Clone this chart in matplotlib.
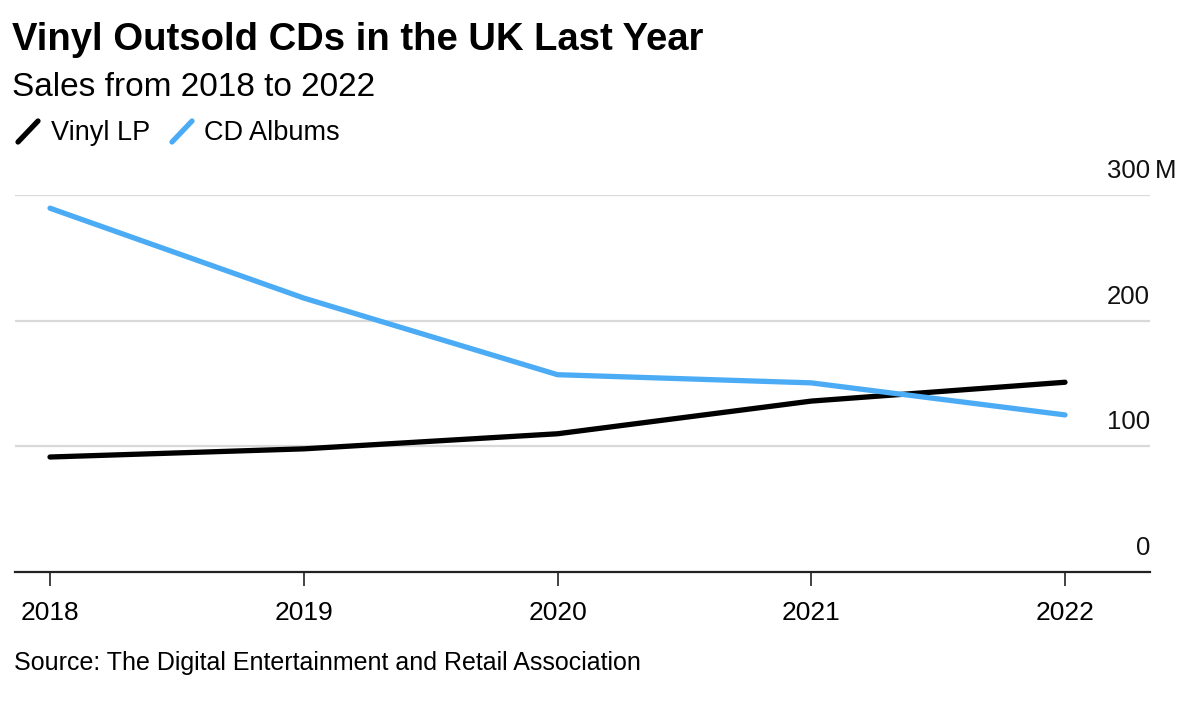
import matplotlib
matplotlib.use("Agg")
import matplotlib.pyplot as plt
from matplotlib.lines import Line2D

years = [2018, 2019, 2020, 2021, 2022]
vinyl_lp = [91.5, 98, 110, 136, 151]
cd_albums = [289.5, 218, 157, 150.5, 125]
y_ticks = [0, 100, 200, 300]
y_tick_labels = ["0", "100", "200", "300"]

BLACK = "#000000"
BLUE = "#4BACF5"
plt.rcParams['font.family'] = ['Liberation Sans', 'DejaVu Sans']

W, H = 1200, 711
fig = plt.figure(figsize=(12, 7.11), dpi=100)

def fx(px):
    return px / W

def fy(py):
    return 1 - py / H

ax = fig.add_axes([fx(15), fy(572), fx(1150) - fx(15), fy(195) - fy(572)])
ax.plot(years, vinyl_lp, color=BLACK, lw=3.8, solid_capstyle='round', zorder=3)
ax.plot(years, cd_albums, color=BLUE, lw=3.8, solid_capstyle='round', zorder=3)

ax.set_xlim(2018 - 35 / 253.75, 2022 + 85 / 253.75)
ax.set_ylim(0, 300)
ax.set_yticks(y_ticks)
ax.set_yticklabels([])
ax.tick_params(axis='y', length=0)
for t in y_ticks[1:]:
    ax.axhline(t, color='#d9d9d9', lw=1.6, zorder=1)
for t, lab in zip(y_ticks, y_tick_labels):
    ax.text(1.0, t + 13.5, lab, transform=ax.get_yaxis_transform(), ha='right', va='baseline',
            fontsize=18.5, color='#111111')
ax.text(1.004, 300 + 13.5, "M", transform=ax.get_yaxis_transform(), ha='left', va='baseline',
        fontsize=18.5, color='#111111')

for s in ['top', 'right', 'left']:
    ax.spines[s].set_visible(False)
ax.spines['bottom'].set_linewidth(1.6)
ax.spines['bottom'].set_color('#222222')
ax.set_xticks(years)
ax.set_xticklabels([str(y) for y in years], fontsize=19)
ax.tick_params(axis='x', length=10, width=1.2, color='#222222', pad=11)
ax.patch.set_alpha(0)

fig.text(fx(12), fy(40), "Vinyl Outsold CDs in the UK Last Year", fontsize=27.5,
         fontweight='bold', ha='left', va='center')
fig.text(fx(12), fy(87), "Sales from 2018 to 2022", fontsize=24, ha='left', va='center')

fig.add_artist(Line2D([fx(18), fx(38)], [fy(142), fy(121)], color=BLACK, lw=3.8,
                      solid_capstyle='round', transform=fig.transFigure))
fig.text(fx(51), fy(133), "Vinyl LP", fontsize=19.5, ha='left', va='center')
fig.add_artist(Line2D([fx(172), fx(192)], [fy(142), fy(121)], color=BLUE, lw=3.8,
                      solid_capstyle='round', transform=fig.transFigure))
fig.text(fx(204), fy(133), "CD Albums", fontsize=19.5, ha='left', va='center')

fig.text(fx(14), fy(663), "Source: The Digital Entertainment and Retail Association",
         fontsize=18, ha='left', va='center')

fig.savefig("out.png", dpi=100)
